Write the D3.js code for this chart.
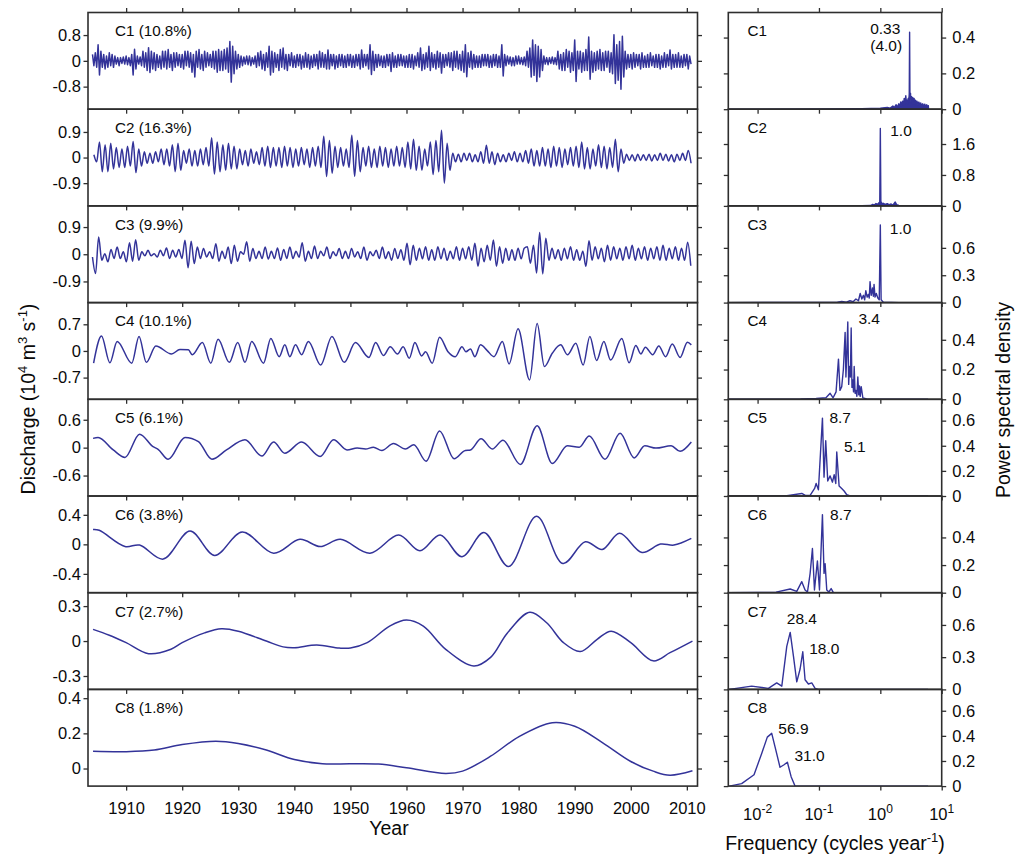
<!DOCTYPE html>
<html>
<head>
<meta charset="utf-8">
<script src="https://cdn.jsdelivr.net/npm/d3@7"></script>
<style>
  body { margin: 0; background: #fff; }
  svg { font-family: Arial, "Liberation Sans", Helvetica, sans-serif; }
</style>
</head>
<body>
<div id="chart"></div>
<script>
// ---- data ----

// C1: extremes sampled every quarter year from 1904
var c1Values = [
 .2,-.15,.25,-.2,  .5,-.44,.3,-.2,  .2,-.25,.15,-.2,  .25,-.15,.2,-.2,  .15,-.1,.1,-.15,
 .1,-.08,.12,-.1,  .15,-.12,.1,-.15,  .2,-.44,.36,-.25,  .15,-.1,.12,-.15,  .3,-.2,.25,-.3,
 .41,-.36,.3,-.25,  .25,-.3,.2,-.2,  .15,-.25,.3,-.2,  .3,-.25,.35,-.2,  .2,-.3,.25,-.2,
 .25,-.15,.2,-.2,  .2,-.25,.3,-.15,  .3,-.2,.25,-.35,  .2,-.5,.3,-.2,  .35,-.25,.2,-.3,
 .3,-.2,.25,-.15,  .2,-.2,.3,-.25,  .3,-.35,.35,-.3,  .3,-.3,.35,-.25,  .4,-.35,.6,-.66,
 .45,-.4,.3,-.25,  .2,-.2,.15,-.15,  .12,-.1,.15,-.12,  .15,-.15,.1,-.1,  .15,-.2,.25,-.15,
 .3,-.25,.2,-.3,  .25,-.2,.45,-.44,  .3,-.35,.25,-.2,  .2,-.3,.35,-.2,  .4,-.25,.2,-.3,
 .2,-.15,.25,-.2,  .15,-.2,.2,-.15,  .2,-.25,.15,-.2,  .25,-.2,.2,-.25,  .15,-.2,.2,-.15,
 .2,-.25,.3,-.2,  .25,-.2,.2,-.25,  .34,-.25,.2,-.15,  .2,-.25,.15,-.2,  .2,-.15,.2,-.2,
 .15,-.2,.2,-.15,  .2,-.2,.15,-.2,  .2,-.15,.2,-.25,  .34,-.2,.2,-.15,  .2,-.25,.5,-.42,
 .3,-.3,.2,-.2,  .2,-.15,.15,-.2,  .15,-.2,.2,-.15,  .2,-.33,.25,-.2,  .15,-.2,.2,-.15,
 .2,-.15,.15,-.2,  .15,-.2,.2,-.2,  .2,-.25,.15,-.15,  .25,-.2,.4,-.3,  .2,-.25,.25,-.2,
 .45,-.3,.25,-.2,  .2,-.25,.3,-.2,  .25,-.38,.2,-.2,  .2,-.15,.25,-.2,  .25,-.3,.3,-.2,
 .3,-.25,.2,-.3,  .3,-.35,.5,-.49,  .25,-.2,.3,-.25,  .2,-.2,.15,-.2,  .15,-.2,.2,-.15,
 .2,-.15,.2,-.2,  .15,-.2,.2,-.15,  .2,-.2,.15,-.2,  .5,-.47,.2,-.15,  .15,-.1,.12,-.15,
 .1,-.15,.15,-.1,  .15,-.1,.1,-.12,  .12,-.15,.3,-.2,  .4,-.5,.65,-.45,  .5,-.64,.45,-.5,
 .35,-.3,.15,-.1,  .1,-.12,.1,-.08,  .12,-.1,.1,-.12,  .3,-.25,.2,-.3,  .25,-.3,.35,-.2,
 .3,-.35,.25,-.3,  .65,-.64,.3,-.25,  .3,-.35,.25,-.3,  .35,-.3,.74,-.57,  .3,-.35,.25,-.3,
 .3,-.25,.35,-.3,  .25,-.3,.3,-.2,  .3,-.35,.25,-.4,  .81,-.7,.5,-.6,  .6,-.88,.76,-.5,
 .3,-.25,.2,-.2,  .2,-.25,.25,-.2,  .2,-.15,.2,-.25,  .25,-.2,.15,-.2,  .2,-.2,.25,-.15,
 .15,-.2,.2,-.2,  .2,-.25,.15,-.2,  .25,-.2,.2,-.15,  .34,-.25,.2,-.2,  .2,-.2,.25,-.2,
 .15,-.2,.2,-.15,  .2,-.25,.15,-.1
];

// C2: annual peak / trough from 1904.25, every half year
var c2Values = [
 .1,-.15, .55,-.5, .45,-.5, .5,-.4, .35,-.35, .3,-.35, .4,-.3, .56,-.53, .3,-.3, .2,-.2,
 .15,-.2, .2,-.15, .3,-.25, .3,-.3, .45,-.5, .5,-.45, .25,-.2, .3,-.3, .25,-.3, .3,-.25,
 .35,-.3, .7,-.58, .55,-.5, .45,-.45, .5,-.4, .4,-.4, .3,-.25, .25,-.3, .3,-.2, .2,-.25,
 .35,-.3, .4,-.35, .35,-.3, .35,-.35, .4,-.3, .35,-.35, .3,-.3, .35,-.25, .3,-.35, .35,-.3,
 .4,-.35, .75,-.67, .6,-.55, .4,-.35, .35,-.3, .3,-.35, .78,-.66, .6,-.5, .35,-.3, .4,-.35,
 .3,-.35, .4,-.3, .35,-.35, .3,-.3, .4,-.3, .35,-.35, .55,-.4, .64,-.45, .4,-.45, .3,-.3,
 .55,-.6, .6,-.5, .96,-.9, .5,-.45, .15,-.15, .12,-.15, .15,-.1, .15,-.15, .1,-.15, .2,-.2,
 .43,-.2, .2,-.25, .15,-.15, .1,-.15, .15,-.1, .2,-.15, .15,-.15, .25,-.2, .3,-.3, .25,-.3,
 .35,-.3, .3,-.35, .4,-.3, .35,-.35, .3,-.25, .35,-.3, .4,-.35, .55,-.4, .35,-.4, .3,-.3,
 .45,-.35, .4,-.4, .35,-.35, .64,-.5, .3,-.2, .12,-.1, .1,-.12, .12,-.1, .1,-.1, .12,-.12,
 .1,-.1, .15,-.1, .12,-.12, .1,-.15, .12,-.1, .15,-.1, .25,-.2
];

// C3: extremes every 0.55 year from 1904
var c3Values = [
 -.09,-.64,.57,-.2,.02,-.25,.16,-.14,.24,-.14,
 .08,-.25,.38,-.23,.48,-.2,.08,-.05,.13,-.05,
 .02,-.09,.13,-.05,.21,-.14,.13,-.09,.16,-.14,
 .46,-.45,.43,-.31,.24,-.14,.19,-.09,.08,-.14,
 .35,-.23,.1,-.14,.24,-.31,.3,-.23,.08,0,
 .41,-.23,.19,-.14,.1,-.14,.24,-.16,.1,-.14,
 .21,-.2,.16,-.14,.24,-.14,.1,-.1,.38,-.23,
 .1,-.14,.27,-.14,.1,-.05,.24,-.14,.08,-.05,
 .19,-.14,.1,-.14,.19,-.09,.08,-.14,.24,-.2,
 .08,-.05,.13,-.14,.24,-.14,.08,-.2,.19,-.14,
 .15,-.2, .36,-.35,.3,-.2,
 .2,-.15,.25,-.2,.15,-.2,.25,-.15,.2,-.2,.1,-.15,.25,-.2,.2,-.15,.25,-.2,
 .36,-.4,.2,-.25,.3,-.2,.47,-.4,.25,-.3,.2,
 -.2,.15,-.2,.2,-.15,.2,
 .25,-.3,.3,-.62,.72,-.65,.53,-.2,
 .2,-.15,.15,-.2,.2,-.15,.25,-.2,.15,-.2,.1,
 -.4,.45,
 -.2,.25,-.15,.2,-.25,.3,-.2,.25,-.15,.2,-.2,.25,-.15,.3,-.2,.2,-.15,.25,-.2,.2,
 -.15,.25,-.2,.3,-.2,.2,-.15,.25,-.2,.2,
 -.2,.4,-.38
];

// C4..C8: [year, value]
var c4Points = [
 [1904.2,-.32],[1905.6,.39],[1907.1,-.31],[1908.4,.25],[1911,-.32],[1912.3,.38],[1913.6,-.3],
 [1915.3,.13],[1918.1,-.08],[1919.6,.04],[1921.1,.03],[1921.8,-.1],[1923.6,.22],[1925.1,-.32],
 [1926.4,.31],[1928.4,-.3],[1929.9,.22],[1931.2,-.3],[1932.4,.25],[1934.5,-.32],[1935.8,.33],
 [1937.3,-.15],[1938.3,.16],[1939.2,-.15],[1940.2,.16],[1941.3,-.1],[1942.5,.25],[1944.7,-.37],
 [1946.7,.38],[1948.9,-.3],[1950.9,.22],[1953.3,-.17],[1954.5,.22],[1955.9,-.12],[1957.1,.11],
 [1958.4,-.08],[1959.4,.11],[1960.5,-.19],[1961.5,.22],[1962.7,-.13],[1963.4,-.02],[1964.6,-.32],
 [1965.9,.36],[1967.4,-.02],[1968.7,-.15],[1969.9,.11],[1970.6,-.02],[1971.4,.05],[1972.2,-.15],
 [1973.2,.16],[1974.4,.01],[1975.6,-.15],[1977.1,.25],[1978.3,-.34],[1979.9,.58],[1981.95,-.76],
 [1983.3,.72],[1984.6,-.41],[1986,-.06],[1987.5,.16],[1988.7,-.1],[1990.2,.2],[1991.5,-.37],
 [1992.7,.38],[1993.9,-.25],[1995.2,.25],[1996.4,-.24],[1998.4,.33],[1999.7,-.31],[2000.9,.14],
 [2001.8,-.08],[2002.6,.1],[2003.9,-.1],[2005,.13],[2006.2,-.15],[2007.4,.18],[2008.8,-.17],
 [2010.1,.23],[2010.8,.16]
];
var c5Points = [
 [1904.1,.2],[1905,.22],[1907.7,-.05],[1909.8,-.21],[1912.4,.29],[1914.8,.02],[1915.7,-.035],
 [1917.5,-.25],[1920.5,.22],[1922.9,.13],[1925.3,-.25],[1927.9,-.05],[1931.2,.17],[1934.2,-.18],
 [1936.3,.12],[1938.3,-.12],[1941.3,.12],[1944.6,-.19],[1947,.17],[1949.4,-.05],[1951.2,-.01],
 [1952.7,-.03],[1954.1,.01],[1955.6,-.06],[1957.7,.09],[1959.8,-.03],[1961.3,.06],[1963.5,-.29],
 [1965.9,.36],[1968.5,-.24],[1970.5,-.06],[1971.4,-.05],[1973.3,.19],[1975.3,-.03],[1977.2,.16],
 [1980.3,-.36],[1983.3,.47],[1986,-.34],[1988.7,.04],[1990.8,.01],[1992.6,.25],[1995.4,-.25],
 [1998.1,.31],[2000.6,-.22],[2002.5,.04],[2004.5,-.01],[2007.2,.04],[2008.8,-.08],[2010.8,.12]
];
var c6Points = [
 [1904.1,.2],[1905.2,.19],[1909.8,-.03],[1912.4,-.01],[1916.6,-.2],[1921.4,.18],[1925.8,-.15],
 [1930.7,.167],[1936.3,-.12],[1941,.068],[1944.6,-.03],[1948.2,.068],[1953.5,-.12],[1958.6,.126],
 [1962.4,-.087],[1966,.126],[1969.9,-.168],[1973.8,.16],[1978.2,-.3],[1983.2,.38],[1987.9,-.26],
 [1991.9,.035],[1994.9,-.07],[1998,.15],[2002,-.11],[2005.3,.004],[2007.7,-.01],[2010.8,.08]
];
var c7Points = [
 [1904.1,.1],[1907,.05],[1910,-.014],[1914,-.108],[1918,-.07],[1920,-.014],[1924,.07],[1927,.106],
 [1930,.085],[1935,0],[1938,-.05],[1940,-.057],[1944,-.034],[1948,-.06],[1950,-.06],[1953,-.014],
 [1957,.128],[1960,.18],[1963,.128],[1967,-.071],[1972,-.214],[1975,-.14],[1978,.07],[1982,.248],
 [1985,.157],[1988,-.014],[1991,-.09],[1994,.015],[1996.5,.085],[2000,-.014],[2004,-.17],
 [2007,-.1],[2011,0]
];
var c8Points = [
 [1904.1,.098],[1910,.096],[1915,.105],[1920,.136],[1926,.155],[1930,.142],[1935,.105],[1940,.051],
 [1945,.027],[1950,.027],[1955,.025],[1960,.004],[1967,-.028],[1970,-.015],[1975,.07],[1980,.18],
 [1986,.26],[1990,.24],[1995,.146],[2000,.04],[2004,-.015],[2007,-.038],[2011,-.013]
];

// spectra: [frequency (cycles/yr), power spectral density]
var c1Spec = [
 [0.00334,0],[0.1,0.001],[0.5,0.003],[1,0.006],[1.3,0.01],[1.45,0.006],[1.6,0.018],[1.7,0.01],
 [1.8,0.025],[1.9,0.012],[2.0,0.03],[2.08,0.015],[2.15,0.04],[2.22,0.02],[2.3,0.045],[2.38,0.025],
 [2.45,0.06],[2.52,0.03],[2.6,0.075],[2.66,0.035],[2.72,0.05],[2.78,0.03],[2.84,0.06],[2.9,0.04],
 [2.96,0.085],[3.0,0.43],[3.04,0.06],[3.1,0.09],[3.16,0.04],[3.22,0.07],[3.3,0.035],[3.38,0.065],
 [3.46,0.03],[3.55,0.06],[3.65,0.03],[3.75,0.05],[3.85,0.025],[3.95,0.045],[4.1,0.025],[4.25,0.04],
 [4.4,0.02],[4.55,0.035],[4.7,0.02],[4.9,0.03],[5.1,0.018],[5.3,0.028],[5.5,0.015],[5.7,0.025],
 [5.9,0.012],[6.05,0.02],[6.1,0]
];
var c2Spec = [
 [0.00334,0],[0.5,0.003],[0.7,0.01],[0.75,0.04],[0.8,0.02],[0.85,0.06],[0.9,0.04],[0.95,0.08],
 [0.98,0.1],[1.0,2.0],[1.02,0.12],[1.06,0.05],[1.1,0.07],[1.2,0.04],[1.3,0.06],[1.4,0.03],
 [1.5,0.05],[1.6,0.02],[1.75,0.1],[1.85,0.03],[2.0,0.01],[3,0.005],[6,0.002]
];
var c3Spec = [
 [0.00334,0],[0.1,0.002],[0.2,0.005],[0.235,0.012],[0.28,0.005],[0.32,0.02],[0.36,0.01],[0.4,0.04],
 [0.44,0.02],[0.47,0.1],[0.5,0.04],[0.53,0.08],[0.555,0.03],[0.58,0.13],[0.61,0.06],[0.64,0.09],
 [0.66,0.05],[0.68,0.23],[0.71,0.08],[0.745,0.16],[0.77,0.07],[0.79,0.2],[0.82,0.06],[0.86,0.1],
 [0.91,0.05],[0.96,0.03],[1.0,0.85],[1.03,0.03],[1.12,0.005],[2,0],[6,0]
];
var c4Spec = [
 [0.00334,0],[0.05,0.002],[0.09,0.005],[0.13,0.01],[0.152,0.04],[0.17,0.01],[0.19,0.05],[0.208,0.27],
 [0.22,0.06],[0.235,0.085],[0.25,0.2],[0.267,0.45],[0.275,0.15],[0.284,0.3],[0.295,0.52],[0.305,0.1],
 [0.314,0.22],[0.325,0.15],[0.335,0.48],[0.345,0.08],[0.356,0.13],[0.366,0.05],[0.375,0.22],
 [0.388,0.04],[0.4,0.06],[0.415,0.02],[0.43,0.15],[0.445,0.03],[0.457,0.09],[0.47,0.02],[0.488,0.085],
 [0.519,0.01],[0.6,0.002],[0.68,0],[6,0]
];
var c5Spec = [
 [0.00334,0],[0.03,0.003],[0.0525,0.02],[0.06,0.005],[0.0718,0.005],[0.085,0.06],[0.09,0.1],
 [0.098,0.05],[0.114,0.62],[0.121,0.15],[0.129,0.44],[0.139,0.12],[0.152,0.16],[0.166,0.11],
 [0.177,0.17],[0.188,0.1],[0.195,0.35],[0.213,0.08],[0.235,0.06],[0.257,0.04],[0.284,0.01],
 [0.322,0],[3,0],[6,0.003]
];
var c6Spec = [
 [0.00334,0],[0.01,0.002],[0.02,0.004],[0.034,0.027],[0.0435,0.01],[0.0525,0.08],[0.0594,0.02],
 [0.065,0.005],[0.0718,0.14],[0.0783,0.32],[0.0845,0.02],[0.0944,0.23],[0.102,0.02],[0.114,0.565],
 [0.121,0.14],[0.126,0.21],[0.134,0.02],[0.145,0.005],[0.158,0.03],[0.172,0],[6,0]
];
var c7Spec = [
 [0.00346,0],[0.008,0.03],[0.015,0.01],[0.0205,0.06],[0.0248,0.03],[0.0299,0.4],[0.034,0.53],
 [0.0384,0.31],[0.0435,0.07],[0.0493,0.19],[0.0545,0.35],[0.0594,0.09],[0.0673,0.05],[0.0764,0.06],
 [0.0865,0.01],[0.098,0],[6,0]
];
var c8Spec = [
 [0.00346,0],[0.0055,0.02],[0.00875,0.09],[0.01167,0.26],[0.0144,0.39],[0.017,0.42],[0.0193,0.31],
 [0.0232,0.15],[0.027,0.17],[0.0306,0.19],[0.0352,0.075],[0.0408,0],[6,0]
];

// peak labels: [text, frequency, psd] (anchor at text start / baseline)
var c1Peaks = [["0.33",0.683,0.418],["(4.0)",0.686,0.325]];
var c2Peaks = [["1.0",1.45,1.807]];
var c3Peaks = [["1.0",1.43,0.749]];
var c4Peaks = [["3.4",0.44,0.504]];
var c5Peaks = [["8.7",0.148,0.584],["5.1",0.257,0.353]];
var c6Peaks = [["8.7",0.152,0.526]];
var c7Peaks = [["28.4",0.0299,0.606],["18.0",0.0692,0.327]];
var c8Peaks = [["56.9",0.0218,0.412],["31.0",0.0398,0.2]];

var names = ["C1","C2","C3","C4","C5","C6","C7","C8"];
var shares = ["10.8%","16.3%","9.9%","10.1%","6.1%","3.8%","2.7%","1.8%"];
var yearTicks = [1910,1920,1930,1940,1950,1960,1970,1980,1990,2000,2010];
var freqTicks = [0.01,0.1,1,10];
var freqExp = ["-2","-1","0","1"];

// ---- layout ----
var width = 1025, height = 856;
var panelTop = 12.5, panelH = 96.7;
var lx0 = 88, lx1 = 697.5, rx0 = 728.3, rx1 = 941.7;
var lineColor = "#333399", frameColor = "#2e2e2e", textColor = "#0a0a0a";

function regular(vals, start, step) {
    return vals.map(function(v, i) { return [start + i * step, v]; });
}

var comps = [
  {series: regular(c1Values, 1904, 0.25), curve: d3.curveLinear, sw: 1.5, yDom: [-1.5, 1.5], yTicks: [-0.8, 0, 0.8],
   spec: c1Spec, fill: true, sDom: [0, 0.54], sTicks: [0, 0.2, 0.4], peaks: c1Peaks},
  {series: regular(c2Values, 1904.25, 0.5), curve: d3.curveMonotoneX, sw: 1.5, yDom: [-1.7, 1.7], yTicks: [-0.9, 0, 0.9],
   spec: c2Spec, fill: true, sDom: [0, 2.5], sTicks: [0, 0.8, 1.6], peaks: c2Peaks},
  {series: regular(c3Values, 1904, 0.55), curve: d3.curveMonotoneX, sw: 1.5, yDom: [-1.6, 1.6], yTicks: [-0.9, 0, 0.9],
   spec: c3Spec, fill: false, sDom: [0, 1.06], sTicks: [0, 0.3, 0.6], peaks: c3Peaks},
  {series: c4Points, curve: d3.curveMonotoneX, sw: 1.5, yDom: [-1.27, 1.27], yTicks: [-0.7, 0, 0.7],
   spec: c4Spec, fill: false, sDom: [0, 0.65], sTicks: [0, 0.2, 0.4], peaks: c4Peaks},
  {series: c5Points, curve: d3.curveMonotoneX, sw: 1.5, yDom: [-1.04, 1.04], yTicks: [-0.6, 0, 0.6],
   spec: c5Spec, fill: false, sDom: [0, 0.77], sTicks: [0, 0.2, 0.4, 0.6], peaks: c5Peaks},
  {series: c6Points, curve: d3.curveCatmullRom.alpha(0.5), sw: 1.5, yDom: [-0.655, 0.655], yTicks: [-0.4, 0, 0.4],
   spec: c6Spec, fill: false, sDom: [0, 0.7], sTicks: [0, 0.2, 0.4], peaks: c6Peaks},
  {series: c7Points, curve: d3.curveCatmullRom.alpha(0.5), sw: 1.5, yDom: [-0.415, 0.415], yTicks: [-0.3, 0, 0.3],
   spec: c7Spec, fill: false, sDom: [0, 0.9], sTicks: [0, 0.3, 0.6], peaks: c7Peaks},
  {series: c8Points, curve: d3.curveCatmullRom.alpha(0.5), sw: 1.5, yDom: [-0.1, 0.45], yTicks: [0, 0.2, 0.4],
   spec: c8Spec, fill: false, sDom: [0, 0.77], sTicks: [0, 0.2, 0.4, 0.6], peaks: c8Peaks}
];

var svg = d3.select("#chart").append("svg")
    .attr("width", width)
    .attr("height", height);

var xYear = d3.scaleLinear().domain([1903.2, 2011.9]).range([lx0, lx1]);
var xFreq = d3.scaleLog().domain([1 / 300, 10]).range([rx0, rx1]);

function styleAxis(g, size) {
    g.attr("font-family", null).attr("font-size", size);
    g.select(".domain").remove();
    g.selectAll(".tick line").attr("stroke", frameColor).attr("stroke-width", 1.3);
    g.selectAll(".tick text").attr("fill", textColor);
}

var defs = svg.append("defs");

comps.forEach(function(c, i) {
    var top = panelTop + i * panelH, bot = top + panelH;
    var last = i === comps.length - 1;

    var y = d3.scaleLinear().domain(c.yDom).range([bot, top]);
    var ys = d3.scaleLinear().domain(c.sDom).range([bot, top]);

    defs.append("clipPath").attr("id", "clipL" + i)
        .append("rect").attr("x", lx0).attr("y", top).attr("width", lx1 - lx0).attr("height", panelH);
    defs.append("clipPath").attr("id", "clipR" + i)
        .append("rect").attr("x", rx0).attr("y", top).attr("width", rx1 - rx0).attr("height", panelH);

    // left: time series
    var line = d3.line()
        .x(function(d) { return xYear(d[0]); })
        .y(function(d) { return y(d[1]); })
        .curve(c.curve);

    svg.append("path")
        .datum(c.series)
        .attr("clip-path", "url(#clipL" + i + ")")
        .attr("fill", "none")
        .attr("stroke", lineColor)
        .attr("stroke-width", c.sw)
        .attr("stroke-linejoin", "round")
        .attr("d", line);

    // right: spectrum
    var sline = d3.line()
        .x(function(d) { return xFreq(d[0]); })
        .y(function(d) { return ys(d[1]); });

    if (c.fill) {
        var sarea = d3.area()
            .x(function(d) { return xFreq(d[0]); })
            .y0(ys(0))
            .y1(function(d) { return ys(d[1]); });
        svg.append("path")
            .datum(c.spec)
            .attr("clip-path", "url(#clipR" + i + ")")
            .attr("fill", lineColor)
            .attr("d", sarea);
    }

    svg.append("path")
        .datum(c.spec)
        .attr("clip-path", "url(#clipR" + i + ")")
        .attr("fill", "none")
        .attr("stroke", lineColor)
        .attr("stroke-width", 1.4)
        .attr("stroke-linejoin", "round")
        .attr("d", sline);

    // axes, left panel
    svg.append("g").attr("transform", "translate(" + lx0 + ",0)")
        .call(d3.axisLeft(y).tickValues(c.yTicks).tickSize(4.5).tickPadding(2.5).tickFormat(String))
        .call(styleAxis, 16.5);
    svg.append("g").attr("transform", "translate(" + lx1 + ",0)")
        .call(d3.axisRight(y).tickValues(c.yTicks).tickSize(4.5).tickFormat(""))
        .call(styleAxis, 16.5);
    svg.append("g").attr("transform", "translate(0," + bot + ")")
        .call(d3.axisBottom(xYear).tickValues(yearTicks).tickSize(4.5).tickPadding(12)
            .tickFormat(last ? String : ""))
        .call(styleAxis, 16.5);

    // axes, right panel
    svg.append("g").attr("transform", "translate(" + rx0 + ",0)")
        .call(d3.axisLeft(ys).tickValues(c.sTicks).tickSize(4.5).tickFormat(""))
        .call(styleAxis, 16.5);
    svg.append("g").attr("transform", "translate(" + rx1 + ",0)")
        .call(d3.axisRight(ys).tickValues(c.sTicks).tickSize(4.5).tickPadding(6).tickFormat(String))
        .call(styleAxis, 16.5);
    svg.append("g").attr("transform", "translate(0," + bot + ")")
        .call(d3.axisBottom(xFreq).tickValues(freqTicks).tickSize(4.5).tickFormat(""))
        .call(styleAxis, 16.5);

    if (i === 0) {
        svg.append("g").attr("transform", "translate(0," + top + ")")
            .call(d3.axisTop(xYear).tickValues(yearTicks).tickSize(4.5).tickFormat(""))
            .call(styleAxis, 16.5);
        svg.append("g").attr("transform", "translate(0," + top + ")")
            .call(d3.axisTop(xFreq).tickValues(freqTicks).tickSize(4.5).tickFormat(""))
            .call(styleAxis, 16.5);
    }

    if (last) {
        // 10^n labels
        freqTicks.forEach(function(f, k) {
            var t = svg.append("text")
                .attr("x", xFreq(f))
                .attr("y", bot + 34)
                .attr("text-anchor", "middle")
                .attr("font-size", 16.5)
                .attr("fill", textColor);
            t.append("tspan").text("10");
            t.append("tspan").attr("dy", -7).attr("font-size", 12).text(freqExp[k]);
        });
    }

    // frames
    svg.append("rect").attr("x", lx0).attr("y", top).attr("width", lx1 - lx0).attr("height", panelH)
        .attr("fill", "none").attr("stroke", frameColor).attr("stroke-width", 1.6);
    svg.append("rect").attr("x", rx0).attr("y", top).attr("width", rx1 - rx0).attr("height", panelH)
        .attr("fill", "none").attr("stroke", frameColor).attr("stroke-width", 1.6);

    // panel labels
    svg.append("text")
        .attr("x", 115).attr("y", top + 23.8)
        .attr("font-size", 15.2).attr("fill", textColor)
        .text(names[i] + " (" + shares[i] + ")");
    svg.append("text")
        .attr("x", 747.5).attr("y", top + 23.8)
        .attr("font-size", 15.2).attr("fill", textColor)
        .text(names[i]);

    c.peaks.forEach(function(p) {
        svg.append("text")
            .attr("x", xFreq(p[1]))
            .attr("y", ys(p[2]))
            .attr("font-size", 15.5).attr("fill", textColor)
            .text(p[0]);
    });
});

// axis titles
svg.append("text")
    .attr("x", 389).attr("y", 835)
    .attr("text-anchor", "middle")
    .attr("font-size", 19.5).attr("fill", textColor)
    .text("Year");

var ft = svg.append("text")
    .attr("x", (rx0 + rx1) / 2).attr("y", 850)
    .attr("text-anchor", "middle")
    .attr("font-size", 19.5).attr("fill", textColor);
ft.append("tspan").text("Frequency (cycles year");
ft.append("tspan").attr("dy", -8).attr("font-size", 13).text("-1");
ft.append("tspan").attr("dy", 8).text(")");

var yt = svg.append("text")
    .attr("transform", "translate(35,399) rotate(-90)")
    .attr("text-anchor", "middle")
    .attr("font-size", 19.5).attr("fill", textColor);
yt.append("tspan").text("Discharge (10");
yt.append("tspan").attr("dy", -8).attr("font-size", 13).text("4");
yt.append("tspan").attr("dy", 8).text(" m");
yt.append("tspan").attr("dy", -8).attr("font-size", 13).text("3");
yt.append("tspan").attr("dy", 8).text(" s");
yt.append("tspan").attr("dy", -8).attr("font-size", 13).text("-1");
yt.append("tspan").attr("dy", 8).text(")");

svg.append("text")
    .attr("transform", "translate(1010,400) rotate(-90)")
    .attr("text-anchor", "middle")
    .attr("font-size", 19.5).attr("fill", textColor)
    .text("Power spectral density");
</script>
</body>
</html>
